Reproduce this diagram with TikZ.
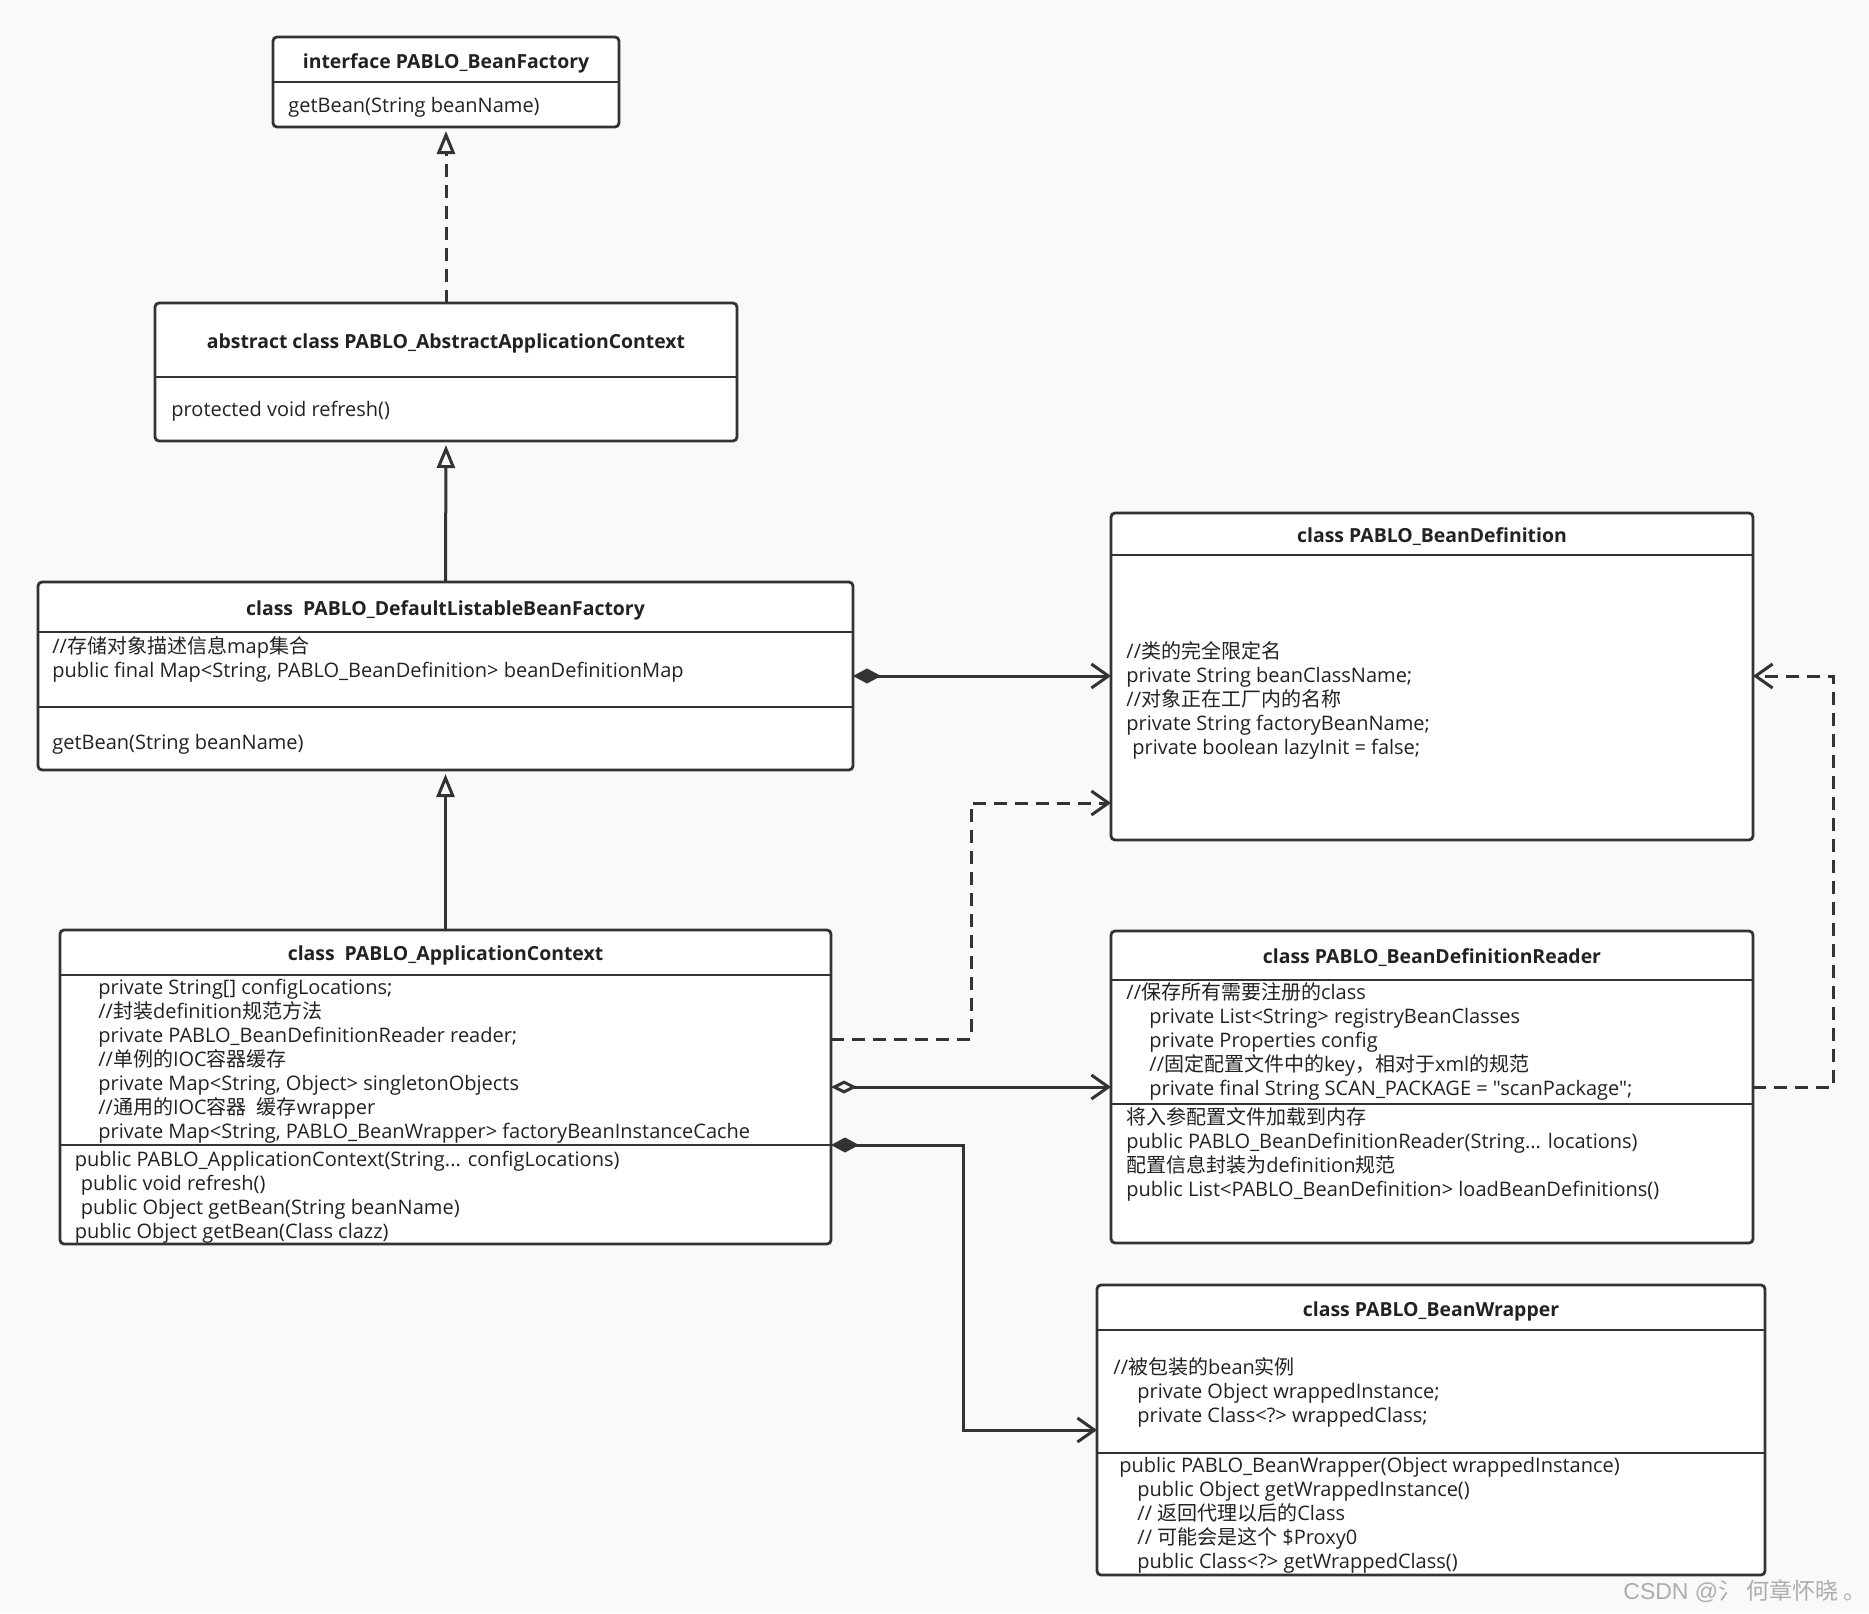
\documentclass[tikz,border=0pt]{standalone}
\usepackage{fontspec}
\setmainfont{Open Sans}
\newfontfamily\plain{Open Sans}
\newfontfamily\cjk{Noto Sans CJK SC}
\newfontfamily\wmf{Liberation Sans}
\usetikzlibrary{arrows.meta}
\definecolor{ln}{HTML}{333333}
\definecolor{tc}{HTML}{222222}
\definecolor{bg}{HTML}{F9F9F9}
\definecolor{wm}{HTML}{ADADAD}
\begin{document}
\begin{tikzpicture}[x=0.5pt,y=-0.5pt,
  cls/.style={draw=ln,fill=white,line width=1.4pt,rounded corners=2pt,anchor=north west,inner sep=0pt,outer sep=0pt},
  div/.style={draw=ln,line width=1.4pt},
  ttl/.style={font=\fontsize{9.7}{12}\selectfont\bfseries,text=tc,inner sep=0pt,anchor=base},
  txt/.style={font={\fontsize{10}{12}\selectfont\lineskiplimit=-20pt\lineskip=0pt},text=tc,align=left,anchor=north west,inner sep=0pt},
  conn/.style={draw=ln,line width=1.5pt},
  dsh/.style={dash pattern=on 6.5pt off 4pt},
  gen/.style={-{Triangle[open,length=11.5pt,width=9pt]},shorten >=2pt},
  opn/.style={-{Straight Barb[length=8.5pt,width=12pt]}},
  comp/.style={{Diamond[length=14pt,width=7.5pt]}-{Straight Barb[length=8.5pt,width=12pt]}},
  agg/.style={{Diamond[open,length=13pt,width=6.5pt]}-{Straight Barb[length=8.5pt,width=12pt]}},
]
\fill[bg] (0,0) rectangle (1869,1613);

% class boxes
\node[cls,minimum width=173pt,minimum height=45pt] (iface) at (273,37) {};
\node[cls,minimum width=291pt,minimum height=69pt] (abs) at (155,303) {};
\node[cls,minimum width=407.5pt,minimum height=94pt] (dlbf) at (38,582) {};
\node[cls,minimum width=385.5pt,minimum height=157pt] (app) at (60,930) {};
\node[cls,minimum width=321pt,minimum height=163.5pt] (bd) at (1111,513) {};
\node[cls,minimum width=321pt,minimum height=156pt] (bdr) at (1111,931) {};
\node[cls,minimum width=334pt,minimum height=145pt] (bw) at (1097,1285) {};

% dividers
\draw[div] (iface.west |- 0,82) -- (iface.east |- 0,82);
\draw[div] (abs.west |- 0,377) -- (abs.east |- 0,377);
\draw[div] (dlbf.west |- 0,632) -- (dlbf.east |- 0,632);
\draw[div] (dlbf.west |- 0,707) -- (dlbf.east |- 0,707);
\draw[div] (app.west |- 0,975) -- (app.east |- 0,975);
\draw[div] (app.west |- 0,1145) -- (app.east |- 0,1145);
\draw[div] (bd.west |- 0,555) -- (bd.east |- 0,555);
\draw[div] (bdr.west |- 0,980) -- (bdr.east |- 0,980);
\draw[div] (bdr.west |- 0,1104) -- (bdr.east |- 0,1104);
\draw[div] (bw.west |- 0,1330) -- (bw.east |- 0,1330);
\draw[div] (bw.west |- 0,1453) -- (bw.east |- 0,1453);

% titles
\node[ttl] (iface-t) at (iface.north |- 0,68.7) {interface PABLO\_BeanFactory};
\node[ttl] (abs-t) at (abs.north |- 0,348) {abstract class PABLO\_AbstractApplicationContext};
\node[ttl] (dlbf-t) at (dlbf.north |- 0,615) {class\ \ PABLO\_DefaultListableBeanFactory};
\node[ttl] (app-t) at (app.north |- 0,960) {class\ \ PABLO\_ApplicationContext};
\node[ttl] (bd-t) at (bd.north |- 0,542) {class PABLO\_BeanDefinition};
\node[ttl] (bdr-t) at (bdr.north |- 0,963.7) {class PABLO\_BeanDefinitionReader};
\node[ttl] (bw-t) at (bw.north |- 0,1316) {class PABLO\_BeanWrapper};

% compartments
\node[txt] (iface-m) at (288,95.5) {\strut getBean(String beanName)};
\node[txt] (abs-m) at (171,399.7) {\strut protected void refresh()};
\node[txt] (dlbf-a) at (52,635.7) {\strut //{\cjk 存储对象描述信息}map{\cjk 集合}\\
\strut public final Map<String, PABLO\_BeanDefinition> beanDefinitionMap};
\node[txt] (dlbf-m) at (52,732.5) {\strut getBean(String beanName)};
\node[txt] (app-a) at (98,977.7) {\strut private String[] configLocations;\\
\strut //{\cjk 封装}definition{\cjk 规范方法}\\
\strut private PABLO\_BeanDefinitionReader reader;\\
\strut //{\cjk 单例的}IOC{\cjk 容器缓存}\\
\strut private Map<String, Object> singletonObjects\\
\strut //{\cjk 通用的}IOC{\cjk 容器}\hspace{5pt}{\cjk 缓存}wrapper\\
\strut private Map<String, PABLO\_BeanWrapper> factoryBeanInstanceCache};
\node[txt] (app-m) at (74.5,1149.7) {\strut public PABLO\_ApplicationContext(String... configLocations)\\
\strut\hspace*{3pt}public void refresh()\\
\strut\hspace*{3pt}public Object getBean(String beanName)\\
\strut public Object getBean(Class clazz)};
\node[txt] (bd-a) at (1126,641.2) {\strut //{\cjk 类的完全限定名}\\
\strut private String beanClassName;\\
\strut //{\cjk 对象正在工厂内的名称}\\
\strut private String factoryBeanName;\\
\strut\hspace*{3pt}private boolean lazyInit = false;};
\node[txt] (bdr-a) at (1126,982.7) {\strut //{\cjk 保存所有需要注册的}class\\
\strut\hspace*{11.5pt}private List<String> registryBeanClasses\\
\strut\hspace*{11.5pt}private Properties config\\
\strut\hspace*{11.5pt}//{\cjk 固定配置文件中的}key{\cjk ，相对于}xml{\cjk 的规范}\\
\strut\hspace*{11.5pt}private final String SCAN\_PACKAGE = {\plain "scanPackage";}};
\node[txt] (bdr-m) at (1126,1106.7) {\strut {\cjk 将入参配置文件加载到内存}\\
\strut public PABLO\_BeanDefinitionReader(String... locations)\\
\strut {\cjk 配置信息封装为}definition{\cjk 规范}\\
\strut public List<PABLO\_BeanDefinition> loadBeanDefinitions()};
\node[txt] (bw-a) at (1113,1357.5) {\strut //{\cjk 被包装的}bean{\cjk 实例}\\
\strut\hspace*{12pt}private Object wrappedInstance;\\
\strut\hspace*{12pt}private Class<?> wrappedClass;};
\node[txt] (bw-m) at (1119,1455.5) {\strut public PABLO\_BeanWrapper(Object wrappedInstance)\\
\strut\hspace*{9pt}public Object getWrappedInstance()\\
\strut\hspace*{9pt}// {\cjk 返回代理以后的}Class\\
\strut\hspace*{9pt}// {\cjk 可能会是这个} \$Proxy0\\
\strut\hspace*{9pt}public Class<?> getWrappedClass()};

% connectors
\draw[conn,dsh,gen] (abs.north) -- (iface.south);
\draw[conn,gen] (dlbf.north) -- (abs.south);
\draw[conn,gen] (app.north) -- (dlbf.south);
\draw[conn,comp] (dlbf.east |- 0,676) -- (bd.west |- 0,676);
\draw[conn,dsh,opn] (app.east |- 0,1039) -- ++(140,0) |- (bd.west |- 0,803);
\draw[conn,agg] (app.east |- 0,1087) -- (bdr.west |- 0,1087);
\draw[conn,dsh,opn] (bdr.east |- 0,1087) -- ++(80,0) |- (bd.east |- 0,676);
\draw[conn,comp] (app.east |- 0,1145) -- ++(132,0) |- (bw.west |- 0,1430);

% watermark
\node[font=\fontsize{11.5}{13}\selectfont,text=wm,anchor=base west,inner sep=0pt] (wmk) at (1623,1599) {\wmf CSDN @{\cjk 氵\ 何章怀晓\ 。}};
\end{tikzpicture}
\end{document}
